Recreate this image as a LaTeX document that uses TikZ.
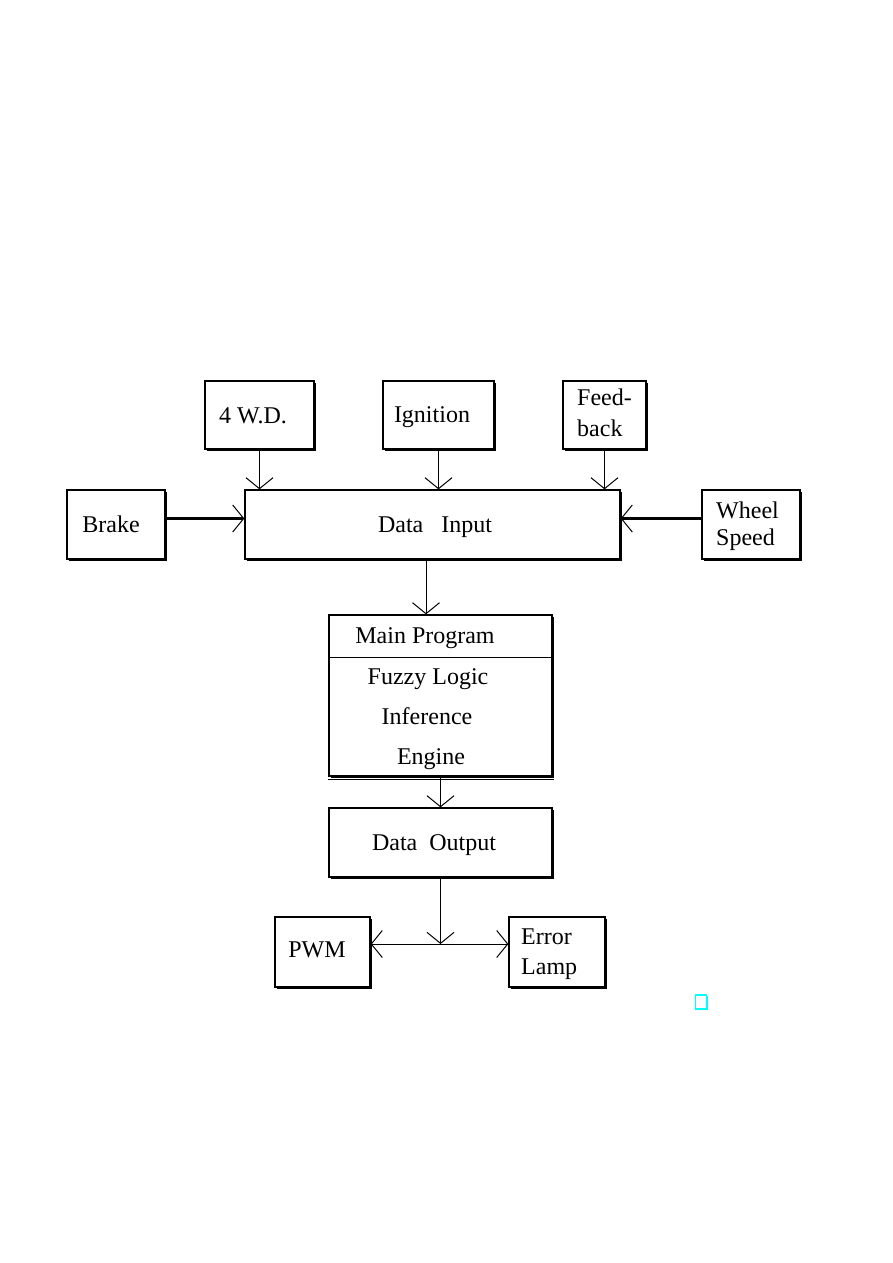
\documentclass[tikz,border=0pt]{standalone}
\usepackage{fontspec}
\setmainfont{Liberation Serif}
\usetikzlibrary{arrows.meta,shadows,calc}
\definecolor{pcyan}{RGB}{0,255,255}
\begin{document}
\begin{tikzpicture}[x=1pt,y=-1pt,
  box/.style={draw=black, line width=1.3pt, fill=white, rectangle, inner sep=0pt,
     drop shadow={shadow xshift=1.6pt, shadow yshift=-1.6pt, fill=black, opacity=1}},
  lbl/.style={inner sep=0pt, font=\fontsize{24}{28}\selectfont, text height=0.66em, text depth=0pt},
  tipped/.style={-{Straight Barb[length=11pt,width=27pt,line width=1pt]}},
  arr/.style={tipped, line width=1pt},
  thickarr/.style={tipped, line width=3pt},
]
\useasboundingbox[fill=white] (0,0) rectangle (893,1263);

% boxes
\node[box, minimum width=109pt, minimum height=68pt] (wd) at (259.5,415) {};
\node[box, minimum width=111pt, minimum height=68pt] (ign) at (438.5,415) {};
\node[box, minimum width=83pt, minimum height=68pt] (fb) at (604.5,415) {};
\node[box, minimum width=375pt, minimum height=69pt] (din) at (432.5,524.5) {};
\node[box, minimum width=98pt, minimum height=69pt] (brake) at (116,524.5) {};
\node[box, minimum width=98pt, minimum height=69pt] (wheel) at (751,524.5) {};
\node[box, minimum width=223pt, minimum height=161pt] (main) at (440.5,695.5) {};
\node[box, minimum width=223pt, minimum height=69pt] (dout) at (440.5,842.5) {};
\node[box, minimum width=95pt, minimum height=70pt] (pwm) at (322.5,952) {};
\node[box, minimum width=96pt, minimum height=70pt] (err) at (557,952) {};
\node[draw=pcyan, line width=1.5pt, minimum width=11pt, minimum height=14pt, inner sep=0pt,
  drop shadow={shadow xshift=1pt, shadow yshift=-1pt, fill=pcyan, opacity=1}, fill=white] (cy) at (701,1002) {};

% main program divider and double bottom line
\draw[line width=1pt] (main.west |- 0,657) -- (main.east |- 0,657);
\draw[line width=1.2pt] ([yshift=-3.2pt]main.south west) -- ([yshift=-3.2pt,xshift=1.6pt]main.south east);

% labels
\node[lbl] (t4wd) at (253,420) {4 W.D.};
\node[lbl] (tign) at (432,419) {Ignition};
\node[lbl, anchor=west] (tfeed) at (577,402) {Feed-};
\node[lbl, anchor=west] (tback) at (577,433) {back};
\node[lbl] (tdin) at (435,529) {Data\hspace{12pt} Input};
\node[lbl] (tbrake) at (111,529) {Brake};
\node[lbl, anchor=west] (twheel) at (716,515) {Wheel};
\node[lbl, anchor=west] (tspeed) at (716,542) {Speed};
\node[lbl] (tmain) at (425,640) {Main Program};
\node[lbl] (tfuzzy) at (428,681) {Fuzzy Logic};
\node[lbl] (tinf) at (427,721) {Inference};
\node[lbl] (teng) at (431,761) {Engine};
\node[lbl] (tdout) at (434,847) {Data\hspace{6pt} Output};
\node[lbl] (tpwm) at (317,954) {PWM};
\node[lbl, anchor=west] (terror) at (521,941) {Error};
\node[lbl, anchor=west] (tlamp) at (521,971) {Lamp};

% connectors
\draw[arr] (wd.south) -- (wd.south |- din.north);
\draw[arr] (ign.south) -- (ign.south |- din.north);
\draw[arr] (fb.south) -- (fb.south |- din.north);
\draw[thickarr] ([yshift=6pt]brake.east) -- ([yshift=6pt]brake.east -| din.west);
\draw[thickarr] ([yshift=6pt]wheel.west) -- ([yshift=6pt]wheel.west -| din.east);
\draw[arr] (din.south -| 426,0) -- (main.north -| 426,0);
\draw[arr] (main.south) -- (dout.north);
\coordinate (j) at (440.5,944);
\draw[arr] (dout.south) -- (j);
\draw[arr] (j) -- (j -| pwm.east);
\draw[arr] (j) -- (j -| err.west);
\end{tikzpicture}
\end{document}
